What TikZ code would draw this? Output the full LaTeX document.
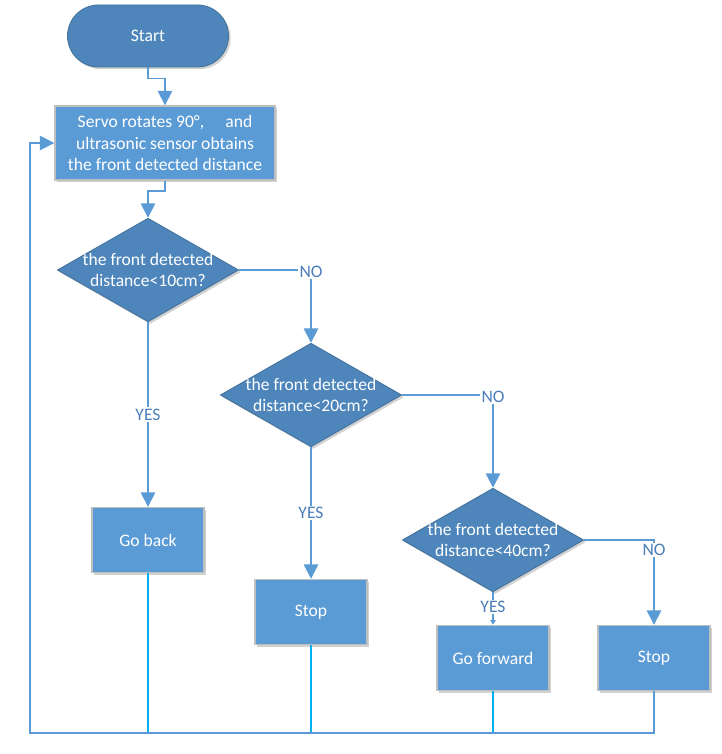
\documentclass[tikz,border=0pt]{standalone}
\usepackage{fontspec}
\setmainfont{Carlito}
\usetikzlibrary{arrows.meta, positioning, shapes.geometric, shadows}
\definecolor{cbox}{HTML}{5B9BD5}
\definecolor{cdark}{HTML}{4E86BB}
\definecolor{cedge}{HTML}{41719C}
\definecolor{cgrey}{HTML}{BFBFBF}
\definecolor{cline}{HTML}{5B9BD5}
\definecolor{ccyan}{HTML}{00B0F0}
\definecolor{clabel}{HTML}{4A7EBB}
\tikzset{
  every picture/.style={font=\fontsize{12.5}{15.3}\selectfont, line width=1.2pt},
  softshadow/.style={drop shadow={shadow xshift=1.5pt, shadow yshift=-1.5pt, opacity=0.18, fill=black}},
  flow/.style={draw=cline, -{Triangle[length=0.36cm, width=0.36cm]}},
  lbl/.style={fill=white, text=clabel, inner sep=1pt},
}

\begin{document}
\begin{tikzpicture}[
    terminal/.style={draw=cedge, line width=0.6pt, fill=cdark, text=white, rounded corners=0.775cm, minimum width=4.025cm, minimum height=1.55cm, softshadow},
    proc/.style={draw=cgrey, line width=1pt, fill=cbox, text=white, align=center, minimum width=2.8cm, minimum height=1.625cm, softshadow},
    test/.style={diamond, draw=cedge, line width=0.6pt, fill=cdark, text=white, align=center, aspect=1.75, inner sep=-1.1pt, softshadow},
    drop/.style={draw=ccyan, line width=0.8pt},
    smallflow/.style={draw=cline, -{Triangle[length=0.12cm, width=0.14cm]}},
  ]
  \useasboundingbox (0,0) rectangle (18.05,-18.85);

  \node[terminal] (start) at (3.7,-0.9) {Start};
  \node[proc, minimum width=5.5cm, minimum height=1.85cm] (servo) at (4.125,-3.575)
    {Servo rotates 90°,\hspace{1.2em}and\\ultrasonic sensor obtains\\the front detected distance};

  % distance checks
  \node[test] (d1) at (3.7,-6.75)    {the front detected\\distance<10cm?};
  \node[test] (d2) at (7.775,-9.875) {the front detected\\distance<20cm?};
  \node[test] (d3) at (12.325,-13.5) {the front detected\\distance<40cm?};

  % actions
  \node[proc] (goback) at (3.7,-13.5)     {Go back};
  \node[proc] (stopa)  at (7.775,-15.3)   {Stop};
  \node[proc] (fwd)    at (12.325,-16.45) {Go forward};
  \node[proc] (stopb)  at (16.35,-16.45)  {Stop};

  \coordinate (loop) at (0.75,-18.325);

  \draw[flow] (start.south) -- ++(0,-0.28) -| (servo.north);
  \draw[flow] (servo.south) -- ++(0,-0.25) -| (d1.north);
  \draw[flow] (d1.east) -| node[lbl, pos=0.5, yshift=-1pt] {NO} (d2.north);
  \draw[flow] (d2.east) -| node[lbl, pos=0.5, yshift=-1pt] {NO} (d3.north);
  \draw[flow] (d3.east) -| node[lbl, pos=0.56] {NO} (stopb.north);
  \draw[flow] (d1.south) -- node[lbl] {YES} (goback.north);
  \draw[flow] (d2.south) -- node[lbl] {YES} (stopa.north);
  \draw[smallflow] (d3.south) -- node[lbl, pos=0.45] {YES} (fwd.north);

  % back to the servo
  \foreach \n in {goback, stopa, fwd} \draw[drop] (\n.south) -- (\n.south |- loop);
  \draw[flow] (stopb.south) |- (loop) |- (servo.west);
\end{tikzpicture}
\end{document}
